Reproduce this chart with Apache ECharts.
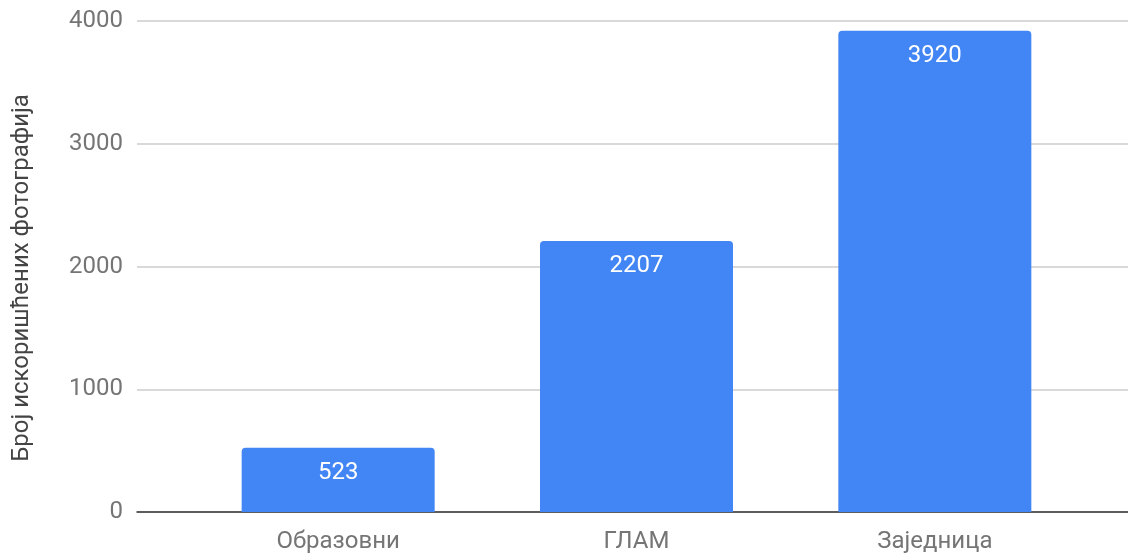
<!DOCTYPE html>
<html><head><meta charset="utf-8">
<script src="https://cdn.jsdelivr.net/npm/echarts@6/dist/echarts.min.js"></script>
<style>html,body{margin:0;padding:0;background:#fff}#c{width:1128px;height:554px}</style>
</head><body><div id="c"></div>
<script>
const categories = ['Образовни', 'ГЛАМ', 'Заједница'];
const values = [523, 2207, 3920];
const yTicks = [0, 1000, 2000, 3000, 4000];
const yTitle = 'Број искоришћених фотографија';

const chart = echarts.init(document.getElementById('c'));
const font = 'Roboto';
chart.setOption({
  animation: false,
  grid: [
    { left: 137, right: 0, top: 21, bottom: 42, outerBoundsMode: 'none' },
    { left: 189, right: 44, top: 21, bottom: 42, outerBoundsMode: 'none' }
  ],
  graphic: [{
    type: 'text', x: 22, y: 278, rotation: Math.PI / 2,
    style: { text: yTitle, fill: '#444', font: '24px Roboto', align: 'center', verticalAlign: 'middle' }
  }],
  xAxis: [
    { gridIndex: 0, type: 'category', data: categories, axisLine: { show: true, lineStyle: { color: '#333', width: 1.5 } },
      axisTick: { show: false }, axisLabel: { show: false } },
    { gridIndex: 1, type: 'category', data: categories, axisLine: { show: false }, axisTick: { show: false },
      axisLabel: { color: '#757575', fontFamily: font, fontSize: 24, margin: 18 } }
  ],
  yAxis: [
    { gridIndex: 0, type: 'value', min: yTicks[0], max: yTicks[yTicks.length - 1], interval: 1000,
      axisLine: { show: false }, axisTick: { show: false },
      axisLabel: { color: '#757575', fontFamily: font, fontSize: 24, margin: 14, formatter: v => String(v) },
      splitLine: { lineStyle: { color: '#cccccc', width: 1.5 } } },
    { gridIndex: 1, type: 'value', min: yTicks[0], max: yTicks[yTicks.length - 1], interval: 1000, show: false }
  ],
  series: [{
    type: 'bar', xAxisIndex: 1, yAxisIndex: 1, data: values, barWidth: 193,
    itemStyle: { color: '#4285F4', borderRadius: [4, 4, 0, 0] },
    label: { show: true, position: 'insideTop', distance: 13, color: '#fff', fontFamily: font, fontSize: 24 }
  }]
});
</script></body></html>
